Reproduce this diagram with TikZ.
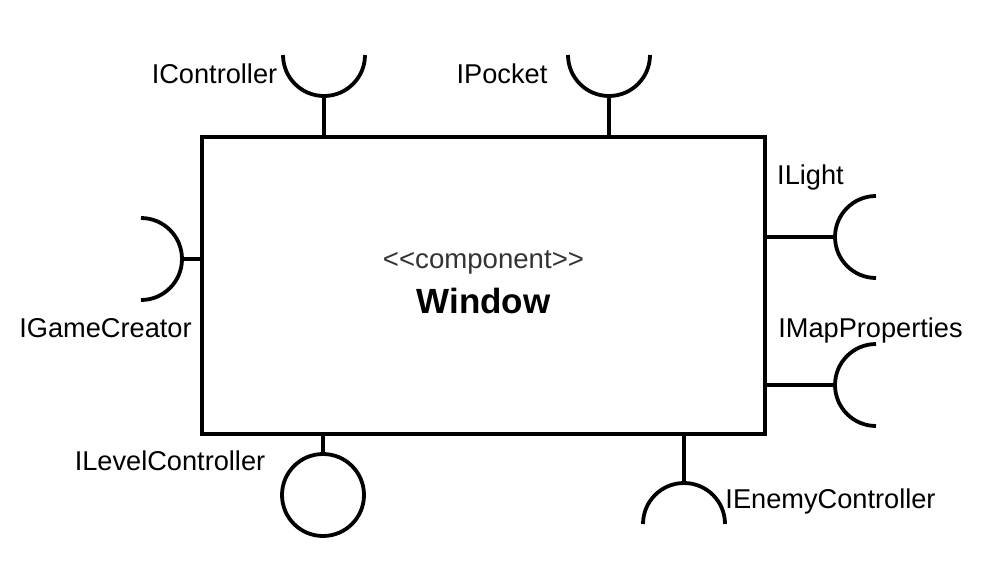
\documentclass[tikz,border=0pt]{standalone}
\usepackage{fontspec}
\setmainfont{Liberation Sans}
\begin{document}
\begin{tikzpicture}[x=1pt,y=1pt,
  ln/.style={line width=3.8pt},
  comp/.style={draw,line width=3.8pt,rectangle,minimum width=563pt,minimum height=297pt,inner sep=0pt},
  lbl/.style={anchor=base,inner sep=0pt,font=\fontsize{27.2}{30}\selectfont},
  stereo/.style={anchor=base,inner sep=0pt,text=black!80,font=\fontsize{27.6}{30}\selectfont},
  title/.style={anchor=base,inner sep=0pt,font=\fontsize{35}{38}\selectfont\bfseries}]
\useasboundingbox (0,0) rectangle (1000,-565);
\node[comp] (win) at (483.5,-285.5) {};
\node[stereo] (st) at (483.5,-268) {<{}<component>{}>};
\node[title] (wt) at (483.5,-313) {Window};
% IController (socket, top)
\coordinate (cC) at (324,-96);
\draw[ln] (283,-55) arc[start angle=180,end angle=360,radius=41];
\draw[ln] (cC) -- (cC |- win.north);
\node[lbl] (lC) at (214.5,-83) {IController};
% IPocket
\coordinate (cP) at (609,-96);
\draw[ln] (568,-55) arc[start angle=180,end angle=360,radius=41];
\draw[ln] (cP) -- (cP |- win.north);
\node[lbl] (lP) at (502,-83) {IPocket};
% IGameCreator (left)
\coordinate (cG) at (182,-259);
\draw[ln] (141,-218) arc[start angle=90,end angle=-90,radius=41];
\draw[ln] (cG) -- (cG -| win.west);
\node[lbl] (lG) at (105.5,-337) {IGameCreator};
% ILight (right)
\coordinate (cL) at (835,-237);
\draw[ln] (876,-196) arc[start angle=90,end angle=270,radius=41];
\draw[ln] (cL) -- (cL -| win.east);
\node[lbl] (lL) at (810.5,-184) {ILight};
% IMapProperties (right)
\coordinate (cM) at (835,-385);
\draw[ln] (876,-344) arc[start angle=90,end angle=270,radius=41];
\draw[ln] (cM) -- (cM -| win.east);
\node[lbl] (lM) at (870.5,-337) {IMapProperties};
% ILevelController (ball, bottom)
\node[draw,ln,circle,minimum size=82pt,inner sep=0pt] (ball) at (323,-495) {};
\draw[ln] (ball.north) -- (ball.north |- win.south);
\node[lbl] (lLC) at (170,-470) {ILevelController};
% IEnemyController (socket, bottom)
\coordinate (cE) at (684,-483);
\draw[ln] (643,-524) arc[start angle=180,end angle=0,radius=41];
\draw[ln] (cE) -- (cE |- win.south);
\node[lbl] (lE) at (830.5,-508) {IEnemyController};
\end{tikzpicture}
\end{document}
